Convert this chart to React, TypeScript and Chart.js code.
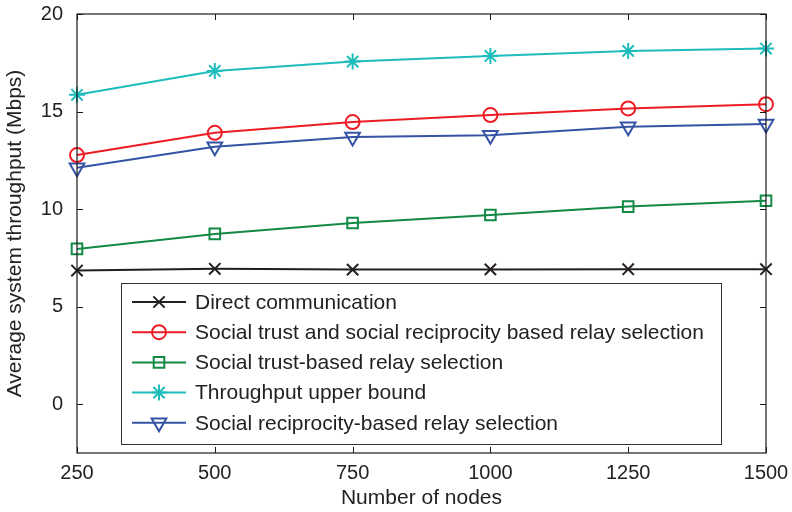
import React, { useEffect, useRef } from "react";
import { Chart, registerables } from "chart.js";
import { drawPoint } from "chart.js/helpers";

Chart.register(...registerables);

const nodes = [250, 500, 750, 1000, 1250, 1500];
const directComm = [6.85, 6.94, 6.9, 6.91, 6.92, 6.92];
const trustReciprocity = [12.77, 13.91, 14.46, 14.82, 15.16, 15.38];
const trustBased = [7.96, 8.73, 9.29, 9.7, 10.13, 10.43];
const upperBound = [15.86, 17.08, 17.56, 17.85, 18.11, 18.23];
const reciprocityBased = [12.12, 13.2, 13.69, 13.78, 14.22, 14.36];

const seriesLabels = [
  "Direct communication",
  "Social trust and social reciprocity based relay selection",
  "Social trust-based relay selection",
  "Throughput upper bound",
  "Social reciprocity-based relay selection",
];
const xTicks = [250, 500, 750, 1000, 1250, 1500];
const yTicks = [0, 5, 10, 15, 20];

const FONT = "'Liberation Sans', Arial, Helvetica, sans-serif";

const frameTicksPlugin = {
  id: "frameTicks",
  afterDraw(chart: any) {
    const { ctx, chartArea } = chart;
    const { left, right, top, bottom } = chartArea;
    const xs = chart.scales.x;
    const ys = chart.scales.y;
    ctx.save();
    ctx.strokeStyle = "#1a1a1a";
    ctx.lineWidth = 1.2;
    ctx.strokeRect(left, top, right - left, bottom - top);
    const tl = 6;
    ctx.beginPath();
    xTicks.forEach((v) => {
      const px = Math.round(xs.getPixelForValue(v)) + 0.5;
      ctx.moveTo(px, bottom);
      ctx.lineTo(px, bottom - tl);
      ctx.moveTo(px, top);
      ctx.lineTo(px, top + tl);
    });
    yTicks.forEach((v) => {
      const py = Math.round(ys.getPixelForValue(v)) + 0.5;
      ctx.moveTo(left, py);
      ctx.lineTo(left + tl, py);
      ctx.moveTo(right, py);
      ctx.lineTo(right - tl, py);
    });
    ctx.lineWidth = 1;
    ctx.stroke();
    ctx.restore();
  },
};

const legendPlugin = {
  id: "innerLegend",
  afterDraw(chart: any) {
    const { ctx } = chart;
    const xs = chart.scales.x;
    const ys = chart.scales.y;
    const bx = xs.left + 44;
    const by = Math.round(ys.getPixelForValue(6.2));
    const bw = 600;
    const bh = 161;
    ctx.save();
    ctx.fillStyle = "#ffffff";
    ctx.fillRect(bx, by, bw, bh);
    ctx.strokeStyle = "#333333";
    ctx.lineWidth = 1;
    ctx.strokeRect(bx + 0.5, by + 0.5, bw, bh);
    ctx.font = `21px ${FONT}`;
    ctx.textBaseline = "middle";
    chart.data.datasets.forEach((ds: any, i: number) => {
      const cy = by + 19 + i * 30.2;
      const x0 = bx + 11;
      const x1 = bx + 65;
      ctx.strokeStyle = ds.borderColor;
      ctx.lineWidth = 2;
      ctx.beginPath();
      ctx.moveTo(x0, cy);
      ctx.lineTo(x1, cy);
      ctx.stroke();
      ctx.fillStyle = "rgba(0,0,0,0)";
      ctx.strokeStyle = ds.pointBorderColor;
      ctx.lineWidth = ds.pointBorderWidth;
      drawPoint(
        ctx,
        {
          pointStyle: ds.pointStyle,
          rotation: ds.pointRotation || 0,
          radius: ds.pointRadius,
          borderWidth: ds.pointBorderWidth,
        },
        (x0 + x1) / 2,
        cy
      );
      ctx.fillStyle = "#222222";
      ctx.fillText(ds.label, bx + 74, cy + 1);
    });
    ctx.restore();
  },
};

function mk(label: string, values: number[], color: string, style: string, radius: number, rotation = 0) {
  return {
    label,
    data: nodes.map((n, i) => ({ x: n, y: values[i] })),
    borderColor: color,
    backgroundColor: "rgba(0,0,0,0)",
    pointBorderColor: color,
    pointBackgroundColor: "rgba(0,0,0,0)",
    pointStyle: style,
    pointRadius: radius,
    pointRotation: rotation,
    pointBorderWidth: 2,
    borderWidth: 2,
    tension: 0,
    clip: false as any,
  };
}

export default function App() {
  const ref = useRef<HTMLCanvasElement | null>(null);
  useEffect(() => {
    if (!ref.current) return;
    const chart = new Chart(ref.current, {
      type: "line",
      data: {
        datasets: [
          mk(seriesLabels[0], directComm, "#231f20", "crossRot", 8),
          mk(seriesLabels[1], trustReciprocity, "#ed1c24", "circle", 7),
          mk(seriesLabels[2], trustBased, "#128a45", "rect", 7.5),
          mk(seriesLabels[3], upperBound, "#1fbcbc", "star", 8),
          mk(seriesLabels[4], reciprocityBased, "#3553a4", "triangle", 8.5, 180),
        ] as any,
      },
      options: {
        animation: false,
        responsive: false,
        maintainAspectRatio: false,
        layout: { padding: { left: 0, top: 14, right: 26, bottom: 0 } },
        plugins: {
          legend: { display: false },
          tooltip: { enabled: false },
        },
        scales: {
          x: {
            type: "linear",
            min: 250,
            max: 1500,
            afterBuildTicks: (s: any) => {
              s.ticks = xTicks.map((v) => ({ value: v }));
            },
            afterFit: (s: any) => {
              s.height = 59;
              s.paddingLeft = 0;
              s.paddingRight = 0;
            },
            grid: { display: false, drawTicks: false },
            border: { display: false },
            ticks: {
              padding: 8,
              autoSkip: false,
              color: "#222222",
              font: { family: FONT, size: 20 },
              callback: (v: any) => String(v),
              maxRotation: 0,
            },
            title: {
              display: true,
              text: "Number of nodes",
              color: "#222222",
              font: { family: FONT, size: 21 },
              padding: { top: 0, bottom: 1 },
            },
          },
          y: {
            type: "linear",
            min: -2.5,
            max: 20,
            afterBuildTicks: (s: any) => {
              s.ticks = yTicks.map((v) => ({ value: v }));
            },
            afterFit: (s: any) => {
              s.width = 77;
              s.paddingTop = 0;
              s.paddingBottom = 0;
            },
            grid: { display: false, drawTicks: false },
            border: { display: false },
            ticks: {
              padding: 14,
              autoSkip: false,
              color: "#222222",
              font: { family: FONT, size: 20 },
              callback: (v: any) => String(v),
            },
            title: {
              display: true,
              text: "Average system throughput (Mbps)",
              color: "#222222",
              font: { family: FONT, size: 21 },
              padding: { top: 3, bottom: 0 },
            },
          },
        },
      },
      plugins: [frameTicksPlugin, legendPlugin],
    });
    return () => chart.destroy();
  }, []);
  return (
    <div style={{ position: "absolute", left: 0, top: 0, width: 792, height: 512, background: "#fff" }}>
      <canvas ref={ref} width={792} height={512} style={{ display: "block", width: 792, height: 512 }} />
    </div>
  );
}
